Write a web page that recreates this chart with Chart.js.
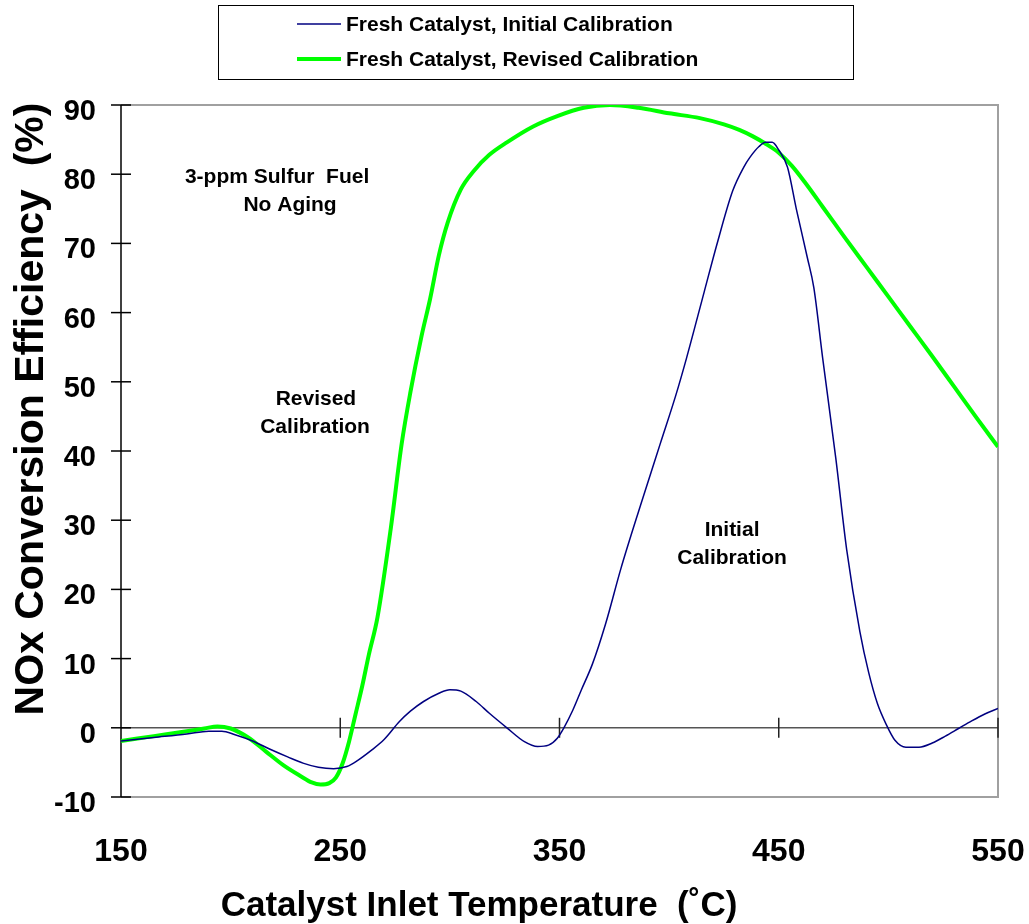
<!DOCTYPE html>
<html>
<head>
<meta charset="utf-8">
<script src="https://cdn.jsdelivr.net/npm/chart.js@4.4.1/dist/chart.umd.min.js"></script>
<style>
  html, body { margin: 0; padding: 0; background: #fff; }
  #wrap { width: 1029px; height: 924px; }
</style>
</head>
<body>
<div id="wrap"><canvas id="chart" width="1029" height="924"></canvas></div>
<script>
// ---------------- DATA ----------------
const seriesNames = [
  "Fresh Catalyst, Initial Calibration",
  "Fresh Catalyst, Revised Calibration",
];

// inlet temperature (°C) / NOx conversion (%) – initial calibration
const tempInitial = [150, 165, 180, 190, 196, 202, 210, 218, 226, 233, 240, 247, 253, 258, 264, 270, 277, 282, 288, 295, 300, 305, 312, 318, 326, 334, 340, 345, 349, 352, 356, 360, 365, 371, 378, 387, 396, 403, 408, 416, 422, 429, 434, 437, 441, 444, 447, 450, 454, 458, 463, 466, 470, 476, 481, 487, 491, 495, 499, 503, 508, 514, 520, 526, 532, 538, 544, 550];
const effInitial = [-1.9, -1.4, -0.9, -0.5, -0.5, -1.0, -1.9, -3.1, -4.2, -5.1, -5.7, -5.9, -5.6, -4.7, -3.3, -1.7, 0.9, 2.4, 3.8, 5.0, 5.5, 5.3, 3.8, 2.1, 0.0, -2.0, -2.7, -2.5, -1.5, 0.0, 2.5, 5.5, 9.2, 15, 23, 32.2, 41.1, 48, 53.5, 63, 70.1, 77.6, 81, 82.5, 84, 84.6, 84.6, 83.5, 81, 75, 68, 63.6, 53.5, 39, 25.7, 13.9, 8, 3.5, 0.5, -1.8, -2.8, -2.8, -2.2, -1.2, -0.1, 1.0, 2.0, 2.8];

// revised calibration
const tempRevised = [150, 165, 180, 188, 194, 200, 208, 216, 224, 232, 237, 241, 245, 248, 251, 254, 257, 260, 263, 267, 273, 278, 282, 287, 291, 295, 299, 305, 311, 318, 326, 338, 349, 361, 373, 386, 400, 414, 425, 432, 438, 444, 450, 456, 462, 470, 480, 490, 500, 510, 520, 530, 540, 550];
const effRevised = [-1.9, -1.2, -0.5, -0.1, 0.2, -0.1, -1.4, -3.4, -5.4, -7.0, -7.9, -8.2, -8.0, -7.2, -5.2, -2.0, 2.0, 6.0, 10.5, 16, 28.7, 41, 48.5, 56.5, 62, 68.3, 73, 77.8, 80.5, 82.8, 84.6, 86.9, 88.4, 89.6, 90, 89.6, 88.8, 88.1, 87.2, 86.4, 85.5, 84.4, 83.1, 81.2, 78.8, 75.3, 70.9, 66.6, 62.3, 58, 53.7, 49.3, 44.9, 40.6];

// axis ticks
const xTicks = [150, 250, 350, 450, 550];
const yTicks = [-10, 0, 10, 20, 30, 40, 50, 60, 70, 80, 90];

const notes = [
  { text: "3-ppm Sulfur  Fuel", x: 221.2, y: 78.8 },
  { text: "No Aging", x: 227.1, y: 74.7 },
  { text: "Revised", x: 238.9, y: 46.7 },
  { text: "Calibration", x: 238.5, y: 42.6 },
  { text: "Initial", x: 428.7, y: 27.7 },
  { text: "Calibration", x: 428.7, y: 23.7 },
];

const FONT = '"Liberation Sans", Arial, Helvetica, sans-serif';
const BLUE = "#000080";
const GREEN = "#00ff00";

function toPoints(xs, ys) {
  return xs.map((t, i) => ({ x: t, y: ys[i] }));
}

// ---------------- FRAME, LEGEND, LABELS ----------------
function line(ctx, x1, y1, x2, y2) {
  ctx.beginPath();
  ctx.moveTo(x1, y1);
  ctx.lineTo(x2, y2);
  ctx.stroke();
}

const decorations = {
  id: "decorations",
  beforeDatasetsDraw(chart) {
    const { ctx, chartArea: a, scales } = chart;
    const xs = scales.x, ys = scales.y;
    const y0 = ys.getPixelForValue(0);
    ctx.save();

    // grey box on top, right and bottom
    ctx.strokeStyle = "#a0a0a0";
    ctx.lineWidth = 2;
    ctx.beginPath();
    ctx.moveTo(a.left, a.top);
    ctx.lineTo(a.right, a.top);
    ctx.lineTo(a.right, a.bottom);
    ctx.lineTo(a.left, a.bottom);
    ctx.stroke();

    // zero line with crossing ticks
    ctx.strokeStyle = "#555";
    ctx.lineWidth = 1.5;
    line(ctx, a.left, y0, a.right, y0);
    ctx.strokeStyle = "#222";
    xTicks.slice(1).forEach((t) => {
      const px = xs.getPixelForValue(t);
      line(ctx, px, y0 - 10, px, y0 + 10);
    });

    // left axis
    ctx.strokeStyle = "#000";
    ctx.lineWidth = 1.5;
    line(ctx, a.left, a.top, a.left, a.bottom);
    yTicks.forEach((t) => {
      const py = ys.getPixelForValue(t);
      line(ctx, a.left - 10, py, a.left + 10, py);
    });
    ctx.restore();
  },
  afterDraw(chart) {
    const { ctx, scales } = chart;
    ctx.save();
    ctx.fillStyle = "#000";

    // notes inside the plot
    ctx.font = "bold 21px " + FONT;
    ctx.textAlign = "center";
    ctx.textBaseline = "alphabetic";
    notes.forEach((n) => {
      ctx.fillText(n.text, scales.x.getPixelForValue(n.x), scales.y.getPixelForValue(n.y));
    });

    // legend box
    ctx.strokeStyle = "#000";
    ctx.lineWidth = 1;
    ctx.strokeRect(218.5, 5.5, 635, 74);
    ctx.textAlign = "left";
    ctx.textBaseline = "middle";
    const rows = [
      { color: BLUE, width: 1.5, y: 24 },
      { color: GREEN, width: 4, y: 59 },
    ];
    rows.forEach((r, i) => {
      ctx.strokeStyle = r.color;
      ctx.lineWidth = r.width;
      line(ctx, 297, r.y, 341, r.y);
      ctx.fillText(seriesNames[i], 346, r.y + 1);
    });

    // axis titles
    ctx.font = "bold 35px " + FONT;
    ctx.textAlign = "center";
    ctx.textBaseline = "alphabetic";
    ctx.fillText("Catalyst Inlet Temperature  (\u02DAC)", 479, 916);

    ctx.translate(43, 409);
    ctx.rotate(-Math.PI / 2);
    ctx.font = "bold 41px " + FONT;
    ctx.fillText("NOx Conversion Efficiency  (%)", 0, 0);
    ctx.restore();
  },
};

// ---------------- CHART ----------------
const chart = new Chart(document.getElementById("chart"), {
  type: "line",
  data: {
    datasets: [
      {
        label: seriesNames[0],
        data: toPoints(tempInitial, effInitial),
        borderColor: BLUE,
        borderWidth: 1.5,
        pointRadius: 0,
        cubicInterpolationMode: "monotone",
      },
      {
        label: seriesNames[1],
        data: toPoints(tempRevised, effRevised),
        borderColor: GREEN,
        borderWidth: 4,
        pointRadius: 0,
        cubicInterpolationMode: "monotone",
      },
    ],
  },
  options: {
    responsive: false,
    animation: false,
    events: [],
    layout: { padding: { left: 0, top: 105, right: 31, bottom: 0 } },
    plugins: {
      legend: { display: false },
      tooltip: { enabled: false },
    },
    scales: {
      x: {
        type: "linear",
        min: 150,
        max: 550,
        afterBuildTicks: (s) => { s.ticks = xTicks.map((v) => ({ value: v })); },
        afterFit: (s) => {
          s.height = 127;
          s.paddingLeft = 0;
          s.paddingRight = 0;
        },
        grid: { display: false },
        border: { display: false },
        ticks: {
          color: "#000",
          padding: 28,
          font: { family: FONT, size: 32, weight: "bold" },
        },
      },
      y: {
        min: -10,
        max: 90,
        afterBuildTicks: (s) => { s.ticks = yTicks.map((v) => ({ value: v })); },
        afterFit: (s) => {
          s.width = 121;
          s.paddingTop = 0;
          s.paddingBottom = 0;
        },
        grid: { display: false },
        border: { display: false },
        ticks: {
          color: "#000",
          padding: 17,
          labelOffset: 7,
          font: { family: FONT, size: 29, weight: "bold" },
        },
      },
    },
  },
  plugins: [decorations],
});
</script>
</body>
</html>
